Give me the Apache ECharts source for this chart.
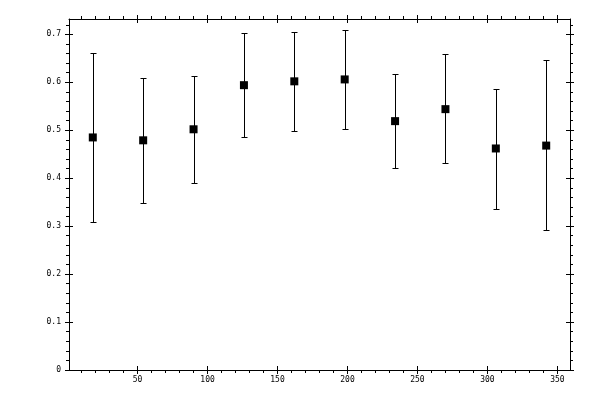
<!DOCTYPE html>
<html>
<head>
<meta charset="utf-8">
<script src="https://cdn.jsdelivr.net/npm/echarts@6/dist/echarts.min.js"></script>
<style>
  html, body { margin: 0; padding: 0; background: #fff; }
  #chart { width: 600px; height: 400px; }
</style>
</head>
<body>
<div id="chart"></div>
<script>
const angles = [18, 54, 90, 126, 162, 198, 234, 270, 306, 342];
const means  = [0.485, 0.479, 0.502, 0.594, 0.602, 0.606, 0.519, 0.544, 0.462, 0.468];
const upper  = [0.662, 0.610, 0.613, 0.702, 0.704, 0.710, 0.617, 0.658, 0.587, 0.646];
const lower  = [0.308, 0.348, 0.391, 0.485, 0.498, 0.502, 0.421, 0.431, 0.335, 0.293];

const xMajor = [50, 100, 150, 200, 250, 300, 350];
const xMinor = [10, 20, 30, 40, 60, 70, 80, 90, 110, 120, 130, 140, 160, 170, 180, 190,
                210, 220, 230, 240, 260, 270, 280, 290, 310, 320, 330, 340];
const yMajor = [0, 0.1, 0.2, 0.3, 0.4, 0.5, 0.6, 0.7];
const yMinor = [0.02, 0.04, 0.06, 0.08, 0.12, 0.14, 0.16, 0.18, 0.22, 0.24, 0.26, 0.28,
                0.32, 0.34, 0.36, 0.38, 0.42, 0.44, 0.46, 0.48, 0.52, 0.54, 0.56, 0.58,
                0.62, 0.64, 0.66, 0.68, 0.72];

const font = { fontFamily: 'DejaVu Sans Mono', fontSize: 8, color: '#000' };

// one axis layer: ticks at given values, optionally labels / axis line
function layer(kind, position, ticks, opts) {
  const ax = {
    type: 'value',
    position: position,
    min: kind === 'x' ? 1 : 0,
    max: kind === 'x' ? 359 : 0.732,
    axisLine: { show: !!opts.line, onZero: false, lineStyle: { color: '#000', width: 1 } },
    axisTick: {
      show: true, inside: !!opts.inside, length: opts.len,
      customValues: ticks, lineStyle: { color: '#000', width: 1 }
    },
    axisLabel: { show: false },
    splitLine: { show: false }
  };
  if (opts.labels) {
    ax.axisLabel = Object.assign({
      show: true, customValues: ticks, margin: opts.margin,
      formatter: v => String(v)
    }, font);
  }
  return ax;
}

const xAxes = [], yAxes = [];
['bottom', 'top'].forEach(p => {
  xAxes.push(layer('x', p, xMajor, { len: 4, line: true, labels: p === 'bottom', margin: 6 }));
  xAxes.push(layer('x', p, xMajor, { len: 4, inside: true }));
  xAxes.push(layer('x', p, xMinor, { len: 3 }));
});
['left', 'right'].forEach(p => {
  yAxes.push(layer('y', p, yMajor, { len: 4, line: true, labels: p === 'left', margin: 8 }));
  yAxes.push(layer('y', p, yMajor, { len: 4, inside: true }));
  yAxes.push(layer('y', p, yMinor, { len: 3 }));
});

const points = angles.map((a, i) => [a, means[i]]);
const bars = angles.map((a, i) => [a, lower[i], upper[i]]);

const crisp = v => Math.round(v) + 0.5;

const chart = echarts.init(document.getElementById('chart'), null, { renderer: 'canvas' });
chart.setOption({
  animation: false,
  backgroundColor: '#fff',
  grid: { left: 69, top: 19, right: 30, bottom: 30 },
  xAxis: xAxes,
  yAxis: yAxes,
  series: [
    {
      type: 'custom',
      xAxisIndex: 0, yAxisIndex: 0,
      data: bars,
      renderItem: (params, api) => {
        const top = api.coord([api.value(0), api.value(2)]);
        const bot = api.coord([api.value(0), api.value(1)]);
        const x = crisp(top[0]), y1 = crisp(top[1]), y2 = crisp(bot[1]);
        const w = 3;
        const style = { stroke: '#000', lineWidth: 1 };
        return {
          type: 'group',
          children: [
            { type: 'line', shape: { x1: x, y1: y1, x2: x, y2: y2 }, style },
            { type: 'line', shape: { x1: x - w, y1: y1, x2: x + w, y2: y1 }, style },
            { type: 'line', shape: { x1: x - w, y1: y2, x2: x + w, y2: y2 }, style }
          ]
        };
      },
      z: 2
    },
    {
      type: 'scatter',
      xAxisIndex: 0, yAxisIndex: 0,
      data: points,
      symbol: 'rect',
      symbolSize: 8,
      itemStyle: { color: '#000', opacity: 1 },
      emphasis: { disabled: true },
      z: 3
    }
  ]
});
</script>
</body>
</html>
